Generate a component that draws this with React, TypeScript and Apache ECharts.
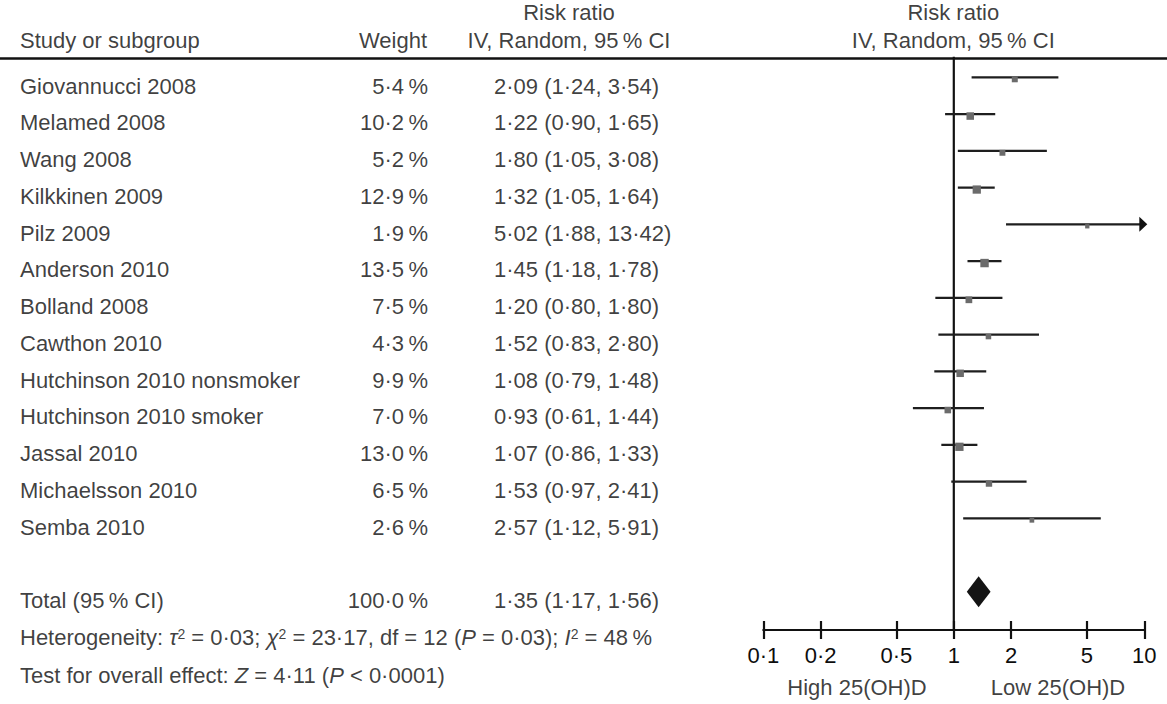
import React, { useEffect, useRef } from "react";
import * as echarts from "echarts";

// ---------- data ----------
const studies = [
  "Giovannucci 2008",
  "Melamed 2008",
  "Wang 2008",
  "Kilkkinen 2009",
  "Pilz 2009",
  "Anderson 2010",
  "Bolland 2008",
  "Cawthon 2010",
  "Hutchinson 2010 nonsmoker",
  "Hutchinson 2010 smoker",
  "Jassal 2010",
  "Michaelsson 2010",
  "Semba 2010",
];
const weights = [5.4, 10.2, 5.2, 12.9, 1.9, 13.5, 7.5, 4.3, 9.9, 7.0, 13.0, 6.5, 2.6];
const riskRatios = [2.09, 1.22, 1.8, 1.32, 5.02, 1.45, 1.2, 1.52, 1.08, 0.93, 1.07, 1.53, 2.57];
const lowerCI = [1.24, 0.9, 1.05, 1.05, 1.88, 1.18, 0.8, 0.83, 0.79, 0.61, 0.86, 0.97, 1.12];
const upperCI = [3.54, 1.65, 3.08, 1.64, 13.42, 1.78, 1.8, 2.8, 1.48, 1.44, 1.33, 2.41, 5.91];

const totalLabel = "Total (95\u2009% CI)";
const totalWeight = 100.0;
const totalRR = 1.35;
const totalLower = 1.17;
const totalUpper = 1.56;

const tickValues = [0.1, 0.2, 0.5, 1, 2, 5, 10];
const tickLabels = ["0·1", "0·2", "0·5", "1", "2", "5", "10"];

const headerStudy = "Study or subgroup";
const headerWeight = "Weight";
const headerRR = "Risk ratio";
const headerMethod = "IV, Random, 95\u2009% CI";
const heterogeneityText =
  "Heterogeneity: {it|τ}{sup|2} = 0·03; {it|χ}{sup|2} = 23·17, df = 12 ({it|P} = 0·03); {it|I}{sup|2} = 48\u2009%";
const overallEffectText = "Test for overall effect: {it|Z} = 4·11 ({it|P} < 0·0001)";
const favoursLeft = "High 25(OH)D";
const favoursRight = "Low 25(OH)D";

// ---------- layout ----------
const W = 1167;
const H = 704;
const FONT = "'Liberation Sans', Arial, Helvetica, sans-serif";
const TEXT = "#0d0d0d";
const ROW_H = 36.75;
const TOTAL_ROW = 14;
const HET_ROW = 15.02;
const TEST_ROW = 16.05;
const HEAD1_ROW = -2.0;
const HEAD2_ROW = -1.25;
const FAV_ROW = 16.38;

const COL_NAME = 20;
const COL_WEIGHT = 428;
const COL_CI = 494;
const COL_HEAD_CI = 569;
const COL_PLOT = 953.3;
const FAV_LEFT_X = 857;
const FAV_RIGHT_X = 1058;

const TABLE_MIN = -2.3;
const TABLE_MAX = 16.5;
const TABLE_TOP = 86 + TABLE_MIN * ROW_H;

const PLOT_MIN = -0.56;
const PLOT_MAX = 15.04;
const PLOT_TOP = 77.3 + PLOT_MIN * ROW_H;

const fmt2 = (v: number) => v.toFixed(2).replace(".", "·");
const fmtW = (v: number) => v.toFixed(1).replace(".", "·") + "\u2009%";
const ciText = (e: number, l: number, h: number) => `${fmt2(e)} (${fmt2(l)}, ${fmt2(h)})`;

const log = (v: number) => Math.log10(v);
const tickLogs = tickValues.map(log);

function textSeries(data: any[], align: string, extra: any = {}) {
  return {
    type: "scatter",
    xAxisIndex: 2,
    yAxisIndex: 1,
    symbolSize: 1,
    silent: true,
    clip: false,
    itemStyle: { color: "rgba(0,0,0,0)" },
    data,
    label: {
      show: true,
      position: "inside",
      align,
      verticalAlign: "middle",
      formatter: (p: any) => p.name,
      color: TEXT,
      fontSize: 22,
      fontFamily: FONT,
      ...extra,
    },
  };
}

export default function App() {
  const ref = useRef<HTMLDivElement>(null);

  useEffect(() => {
    if (!ref.current) return;
    const chart = echarts.init(ref.current, null, { renderer: "svg" });

    const nameData = studies
      .map((n, i) => ({ name: n, value: [COL_NAME, i] }))
      .concat([
        { name: totalLabel, value: [COL_NAME, TOTAL_ROW] },
        { name: headerStudy, value: [COL_NAME, HEAD2_ROW] },
      ]);
    const weightData = weights
      .map((w, i) => ({ name: fmtW(w), value: [COL_WEIGHT, i] }))
      .concat([
        { name: fmtW(totalWeight), value: [COL_WEIGHT, TOTAL_ROW] },
        { name: headerWeight, value: [COL_WEIGHT - 1, HEAD2_ROW] },
      ]);
    const ciData = studies
      .map((_, i) => ({ name: ciText(riskRatios[i], lowerCI[i], upperCI[i]), value: [COL_CI, i] }))
      .concat([{ name: ciText(totalRR, totalLower, totalUpper), value: [COL_CI, TOTAL_ROW] }]);
    const centerData = [
      { name: headerRR, value: [COL_HEAD_CI, HEAD1_ROW] },
      { name: headerMethod, value: [COL_HEAD_CI, HEAD2_ROW] },
      { name: headerRR, value: [COL_PLOT, HEAD1_ROW] },
      { name: headerMethod, value: [COL_PLOT, HEAD2_ROW] },
      { name: favoursLeft, value: [FAV_LEFT_X, FAV_ROW] },
      { name: favoursRight, value: [FAV_RIGHT_X, FAV_ROW] },
    ];
    const richBase = { fontSize: 22, fontFamily: FONT, color: TEXT };
    const footData = [
      { name: heterogeneityText, value: [COL_NAME, HET_ROW] },
      { name: overallEffectText, value: [COL_NAME, TEST_ROW] },
    ];

    const studyData = studies.map((_, i) => [
      log(riskRatios[i]),
      i,
      log(lowerCI[i]),
      log(upperCI[i]),
      weights[i],
    ]);

    const option: any = {
      animation: false,
      backgroundColor: "#ffffff",
      textStyle: { fontFamily: FONT },
      grid: [
        {
          left: 763.3,
          top: PLOT_TOP,
          width: 381,
          height: (PLOT_MAX - PLOT_MIN) * ROW_H,
          containLabel: false,
          outerBoundsMode: "none",
        },
        {
          left: 0,
          top: TABLE_TOP,
          width: W,
          height: (TABLE_MAX - TABLE_MIN) * ROW_H,
          containLabel: false,
          outerBoundsMode: "none",
        },
      ],
      xAxis: [
        {
          type: "value",
          gridIndex: 0,
          min: -1,
          max: 1,
          position: "bottom",
          splitLine: { show: false },
          axisLine: { show: true, onZero: false, lineStyle: { color: "#111111", width: 2.2 } },
          axisTick: {
            show: true,
            inside: false,
            length: 9,
            customValues: tickLogs,
            lineStyle: { color: "#111111", width: 2.2 },
          },
          axisLabel: {
            show: true,
            customValues: tickLogs,
            margin: 14,
            fontSize: 22,
            fontFamily: FONT,
            color: TEXT,
            formatter: (v: number) => {
              let best = 0;
              tickLogs.forEach((t, i) => {
                if (Math.abs(t - v) < Math.abs(tickLogs[best] - v)) best = i;
              });
              return tickLabels[best];
            },
          },
        },
        {
          type: "value",
          gridIndex: 0,
          min: -1,
          max: 1,
          position: "bottom",
          splitLine: { show: false },
          axisLine: { show: false, onZero: false },
          axisTick: {
            show: true,
            inside: true,
            length: 9,
            customValues: tickLogs,
            lineStyle: { color: "#111111", width: 2.2 },
          },
          axisLabel: { show: false },
        },
        {
          type: "value",
          gridIndex: 1,
          min: 0,
          max: W,
          show: false,
        },
      ],
      yAxis: [
        { type: "value", gridIndex: 0, min: PLOT_MIN, max: PLOT_MAX, inverse: true, show: false },
        { type: "value", gridIndex: 1, min: TABLE_MIN, max: TABLE_MAX, inverse: true, show: false },
      ],
      graphic: [
        {
          type: "line",
          shape: { x1: 0, y1: 58.5, x2: W, y2: 58.5 },
          style: { stroke: "#111111", lineWidth: 2.5 },
          silent: true,
          z: 10,
        },
      ],
      series: [
        // line of no effect
        {
          type: "line",
          xAxisIndex: 0,
          yAxisIndex: 0,
          data: [
            [0, PLOT_MIN],
            [0, PLOT_MAX],
          ],
          symbol: "none",
          silent: true,
          lineStyle: { color: "#111111", width: 2.2 },
          z: 2,
        },
        // study CIs and squares
        {
          type: "custom",
          xAxisIndex: 0,
          yAxisIndex: 0,
          clip: false,
          silent: true,
          encode: { x: [0, 2, 3], y: 1 },
          data: studyData,
          z: 3,
          renderItem: (params: any, api: any) => {
            const row = api.value(1);
            const hi = api.value(3);
            const p0 = api.coord([api.value(2), row]);
            const p1 = api.coord([Math.min(hi, 1), row]);
            const pe = api.coord([api.value(0), row]);
            const s = 1.8 + 1.8 * Math.sqrt(api.value(4));
            const children: any[] = [
              {
                type: "line",
                shape: { x1: p0[0], y1: p0[1], x2: p1[0] - (hi > 1 ? 2 : 0), y2: p1[1] },
                style: { stroke: "#1e1e1e", lineWidth: 2.2 },
              },
              {
                type: "rect",
                shape: { x: pe[0] - s / 2, y: pe[1] - s / 2 + 2, width: s, height: s },
                style: { fill: "#6b6b6b" },
              },
            ];
            if (hi > 1) {
              children.push({
                type: "polygon",
                shape: {
                  points: [
                    [p1[0] + 3, p1[1]],
                    [p1[0] - 5, p1[1] - 7.5],
                    [p1[0] - 5, p1[1] + 7.5],
                  ],
                },
                style: { fill: "#111111" },
              });
            }
            return { type: "group", children };
          },
        },
        // pooled diamond
        {
          type: "custom",
          xAxisIndex: 0,
          yAxisIndex: 0,
          clip: false,
          silent: true,
          encode: { x: [0, 2, 3], y: 1 },
          data: [[log(totalRR), TOTAL_ROW, log(totalLower), log(totalUpper)]],
          z: 3,
          renderItem: (params: any, api: any) => {
            const row = api.value(1);
            const pe = api.coord([api.value(0), row]);
            const pl = api.coord([api.value(2), row]);
            const ph = api.coord([api.value(3), row]);
            const h = 15.5;
            return {
              type: "polygon",
              shape: {
                points: [
                  [pl[0], pl[1]],
                  [pe[0], pe[1] - h],
                  [ph[0], ph[1]],
                  [pe[0], pe[1] + h],
                ],
              },
              style: { fill: "#141414" },
            };
          },
        },
        textSeries(nameData, "left"),
        textSeries(weightData, "right"),
        textSeries(ciData, "left"),
        textSeries(centerData, "center"),
        textSeries(footData, "left", {
          rich: {
            it: { ...richBase, fontStyle: "italic" },
            sup: { ...richBase, fontSize: 14, verticalAlign: "top", padding: [0, 0, 8, 0] },
          },
        }),
      ],
    };

    chart.setOption(option);
    return () => chart.dispose();
  }, []);

  return (
    <div
      ref={ref}
      style={{ position: "absolute", left: 0, top: 0, width: W, height: H, background: "#fff" }}
    />
  );
}
